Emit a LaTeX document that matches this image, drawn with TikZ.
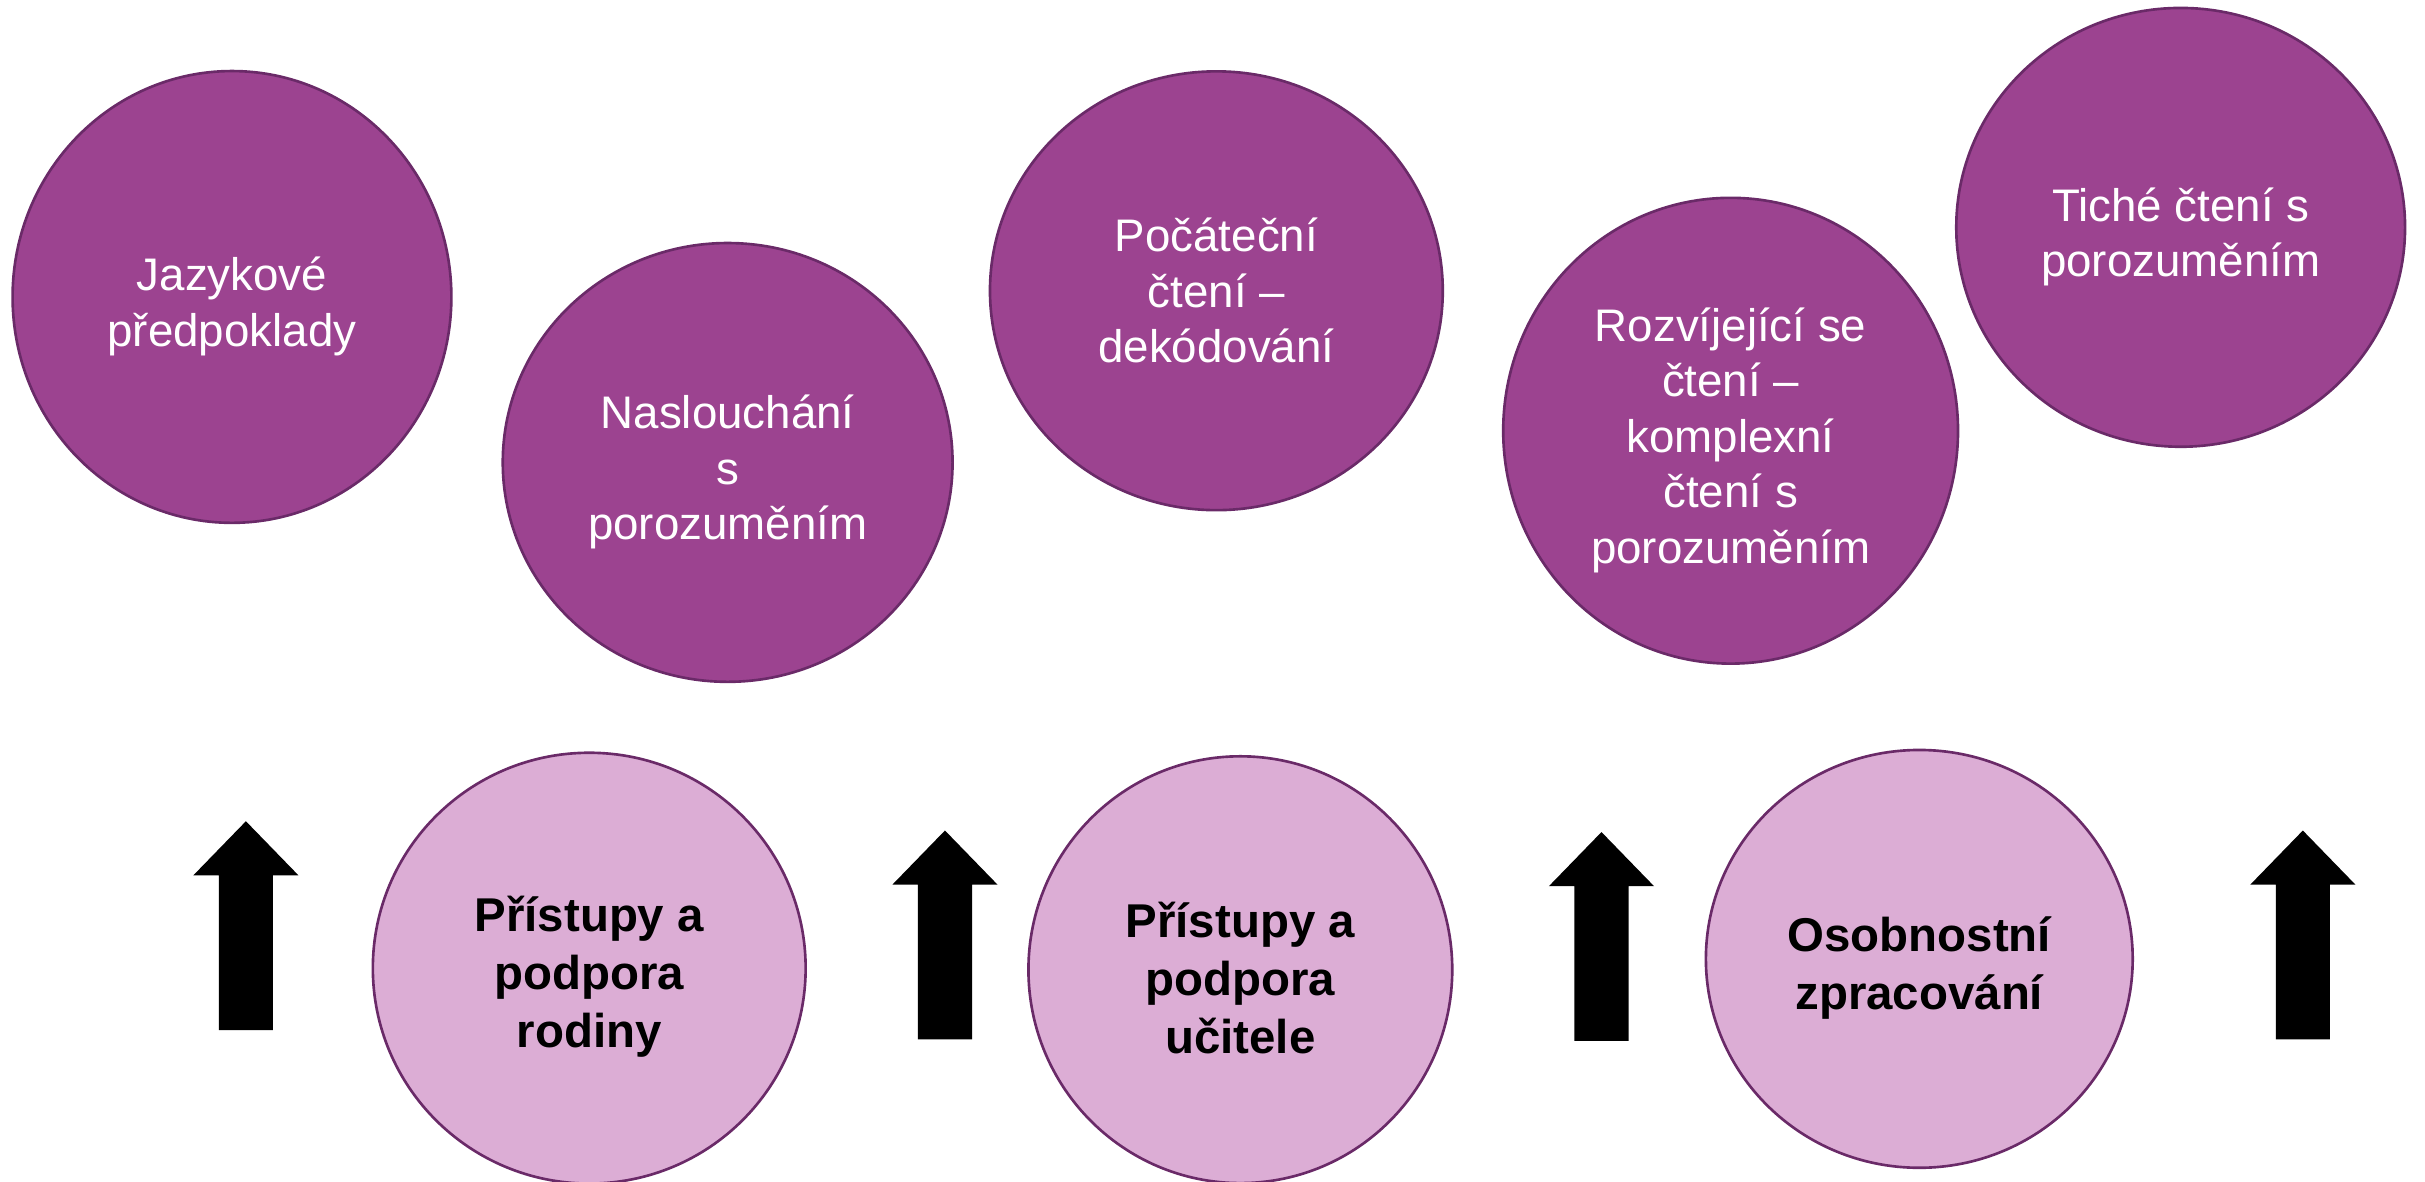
\documentclass[tikz,border=0pt]{standalone}
\usepackage{fontspec}
\setmainfont{Liberation Sans}
\usepackage{tikz}
\usetikzlibrary{shapes.geometric}
\definecolor{stagefill}{HTML}{9C4390}
\definecolor{supportfill}{HTML}{DCADD5}
\definecolor{ringline}{HTML}{6A2A68}
\newcommand{\topgap}{\rule{0pt}{15pt}}
\tikzset{every picture/.style={line width=0.75pt}}
\tikzset{
  stage/.style={ellipse, draw=ringline, fill=stagefill, text=white, inner sep=0pt,
    align=center, font=\fontsize{13}{15.8}\selectfont},
  support/.style={ellipse, draw=ringline, fill=supportfill, text=black, inner sep=0pt,
    align=center, font=\fontsize{13.5}{16.5}\selectfont\bfseries},
  pics/uparrow/.style={code={
    \fill[black] (0,0) -- (34,35) -- (17.5,35) -- (17.5,135) -- (-17.5,135)
      -- (-17.5,35) -- (-34,35) -- cycle;}}
}

\begin{document}
\begin{tikzpicture}[x=0.015466cm, y=-0.015466cm]
\useasboundingbox (0,0) rectangle (1568,764);
%
\node[stage, minimum width=4.39cm, minimum height=4.52cm] (s1) at (150,192) {\topgap Jazykové\\předpoklady};
\node[stage, minimum width=4.50cm, minimum height=4.39cm] (s2) at (470.5,299) {\topgap Naslouchání\\s\\porozuměním};
\node[stage, minimum width=4.53cm, minimum height=4.39cm] (s3) at (786.5,188) {Počáteční\\čtení –\\dekódování};
\node[stage, minimum width=4.55cm, minimum height=4.66cm] (s4) at (1119,278.5) {\topgap Rozvíjející se\\čtení –\\komplexní\\čtení s\\porozuměním};
\node[stage, minimum width=4.49cm, minimum height=4.39cm] (s5) at (1410,147) {\topgap Tiché čtení s\\porozuměním};
%
\node[support, minimum width=4.33cm, minimum height=4.31cm] (p1) at (381,626) {\topgap Přístupy a\\podpora\\rodiny};
\node[support, minimum width=4.24cm, minimum height=4.27cm] (p2) at (802,627) {\topgap Přístupy a\\podpora\\učitele};
\node[support, minimum width=4.27cm, minimum height=4.18cm] (p3) at (1241,620) {\topgap Osobnostní\\zpracování};
%
\foreach \X/\Y in {%
        159/531,
        611/537,
        1035.5/538,
        1489/537%
    }
\pic at (\X,\Y) {uparrow};
\end{tikzpicture}
\end{document}
